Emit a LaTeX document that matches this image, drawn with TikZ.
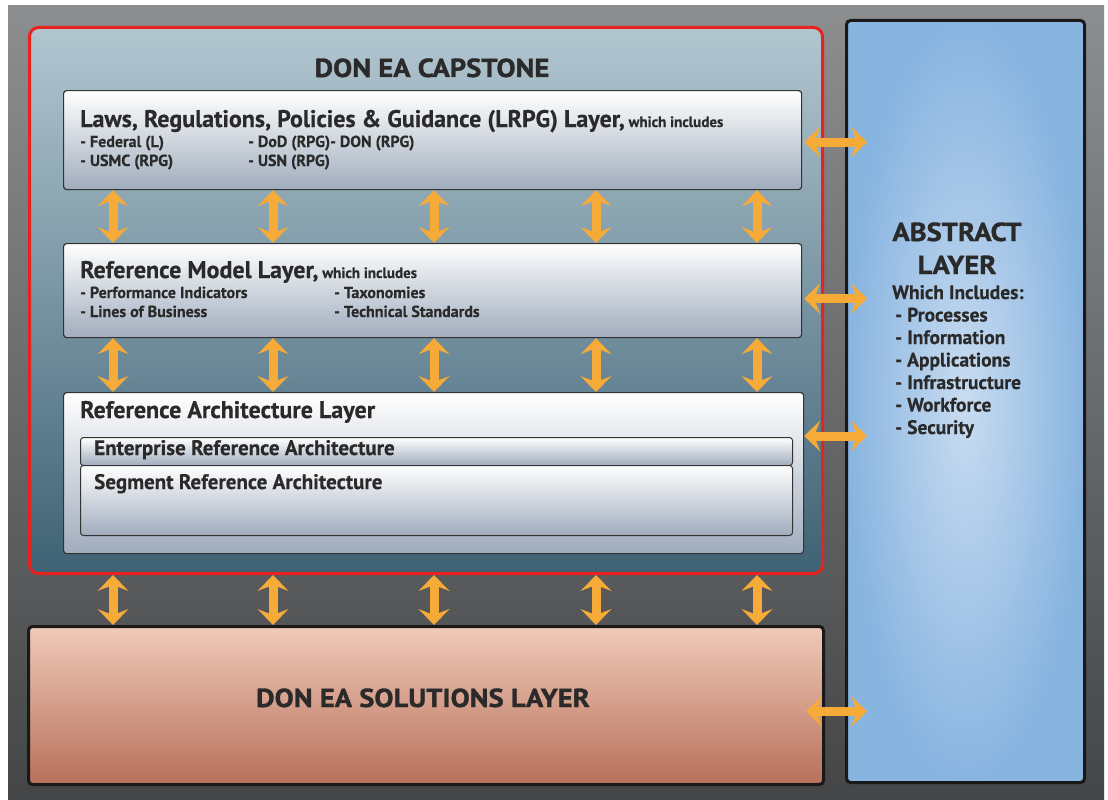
\documentclass[tikz,border=0pt]{standalone}
\usepackage{fontspec}
\setmainfont{PT Sans}[BoldFeatures={FakeBold=0.4}]
\newfontfamily\titlefont{PT Sans}[FakeStretch=1.1, BoldFeatures={FakeBold=1.2}]
\usetikzlibrary{arrows.meta,calc}

\definecolor{bgtop}{HTML}{8D8E90}
\definecolor{bgbot}{HTML}{444547}
\definecolor{captop}{HTML}{B2C6D0}
\definecolor{capbot}{HTML}{3E6274}
\definecolor{capred}{HTML}{E8221E}
\definecolor{layerbot}{HTML}{A0ACBD}
\definecolor{absin}{HTML}{C8DCF1}
\definecolor{absout}{HTML}{88B4E0}
\definecolor{soltop}{HTML}{F0CAB8}
\definecolor{solbot}{HTML}{B7705B}
\definecolor{linkorange}{HTML}{F6AA37}
\definecolor{textdark}{HTML}{2A2A2A}

\begin{document}
\begin{tikzpicture}[x=1pt, y=-1pt,
    base/.style = {rectangle, rounded corners=3pt, draw=black!80, line width=1.2pt,
                   anchor=north west, inner sep=0pt},
    layer/.style = {base, top color=white, bottom color=layerbot},
    panel/.style = {base, draw=black!90, line width=3pt, rounded corners=4pt},
    title/.style = {anchor=base, inner sep=0pt, text=textdark,
                    font=\titlefont\bfseries\fontsize{26}{33}\selectfont},
    heading/.style = {anchor=base west, inner sep=0pt, text=textdark,
                      font=\bfseries\fontsize{24}{28}\selectfont},
    small/.style = {font=\bfseries\fontsize{15}{17}\selectfont},
    item/.style = {anchor=base west, inner sep=0pt, text=textdark,
                   font=\bfseries\fontsize{16}{18}\selectfont},
    listitem/.style = {item, font=\bfseries\fontsize{19.5}{22}\selectfont},
    link/.style = {draw=linkorange, line width=9pt,
                   {Stealth[length=16pt,width=31pt,inset=6pt,line width=0pt]}-{Stealth[length=16pt,width=31pt,inset=6pt,line width=0pt]}}
]

  \path[fill=white, use as bounding box] (0,0) rectangle (1108,800);
  \shade[top color=bgtop, bottom color=bgbot] (8,6) rectangle (1104,800);

  % capstone and the side panels
  \node (capstone)  [base, draw=capred, line width=3pt, rounded corners=9pt,
                     top color=captop, bottom color=capbot,
                     minimum width=793pt, minimum height=546pt] at (28,26) {};
  \node (abstract)  [panel, inner color=absin, outer color=absout,
                     minimum width=238pt, minimum height=762pt] at (845,19) {};
  \node (solutions) [panel, top color=soltop, bottom color=solbot,
                     minimum width=795pt, minimum height=158pt] at (27,625) {};

  % the three layers
  \node (lrpg)     [layer, minimum width=738pt, minimum height=99pt]  at (63,90) {};
  \node (refmodel) [layer, minimum width=738pt, minimum height=94pt]  at (63,243) {};
  \node (refarch)  [layer, minimum width=740pt, minimum height=161pt] at (63,392) {};
  \node (era)      [layer, line width=1pt, minimum width=712pt, minimum height=28pt] at (80,437) {};
  \node (sra)      [layer, line width=1pt, minimum width=712pt, minimum height=70pt] at (80,465) {};

  % texts
  \node (captitle) [title] at (432,77) {DON EA CAPSTONE};
  \node (lrpghead) [heading] at (80,127) {Laws, Regulations, Policies \& Guidance (LRPG) Layer,{\fontsize{15}{17}\selectfont\ which includes}};
  \node (lrpga) [item] at (80,147)  {- Federal (L)};
  \node (lrpgb) [item] at (248,147) {- DoD (RPG)- DON (RPG)};
  \node (lrpgc) [item] at (80,166)  {- USMC (RPG)};
  \node (lrpgd) [item] at (248,166) {- USN (RPG)};

  \node (rmhead) [heading] at (80,278) {Reference Model Layer,{\fontsize{15}{17}\selectfont\ which includes}};
  \node (rma) [item] at (80,298)  {- Performance Indicators};
  \node (rmb) [item] at (334,298) {- Taxonomies};
  \node (rmc) [item] at (80,317)  {- Lines of Business};
  \node (rmd) [item] at (334,317) {- Technical Standards};

  \node (rahead)  [heading] at (80,418) {Reference Architecture Layer};
  \node (eratext) [heading, font=\bfseries\fontsize{21}{24}\selectfont] at (94,455) {Enterprise Reference Architecture};
  \node (sratext) [heading, font=\bfseries\fontsize{21}{24}\selectfont] at (94,489) {Segment Reference Architecture};

  \node (abstitle) [title, align=center] at (957,274) {ABSTRACT\\LAYER};
  \node (abshead) [listitem] at (892,299) {Which Includes:};
  \foreach \t [count=\k] in {Processes, Information, Applications, Infrastructure, Workforce, Security}
    \node (absitem\k) [listitem] at (895,299+22.5*\k) {- \t};

  \node (soltitle) [title] at (423,707) {DON EA SOLUTIONS LAYER};

  % arrows between the layers
  \foreach \x [count=\i] in {113,273,434,596,757}
    \coordinate (col\i) at (\x,0);
  \foreach \i in {1,...,5} {
    \draw[link] (lrpg.south -| col\i) -- (refmodel.north -| col\i);
    \draw[link] (refmodel.south -| col\i) -- (refarch.north -| col\i);
    \draw[link] (capstone.south -| col\i) -- (solutions.north -| col\i);
  }

  % arrows to the abstract layer
  \draw[link] ($(lrpg.east)+(2,2)$) -- ($(lrpg.east -| abstract.west)+(22,2)$);
  \draw[link] ($(refmodel.east)+(2,8)$) -- ($(refmodel.east -| abstract.west)+(22,8)$);
  \draw[link] ($(refarch.east |- era.north)+(0,-1)$) -- ($(era.north -| abstract.west)+(22,-1)$);
  \draw[link] ($(solutions.east)+(-19,6)$) -- ($(solutions.east -| abstract.west)+(22,6)$);

\end{tikzpicture}
\end{document}
